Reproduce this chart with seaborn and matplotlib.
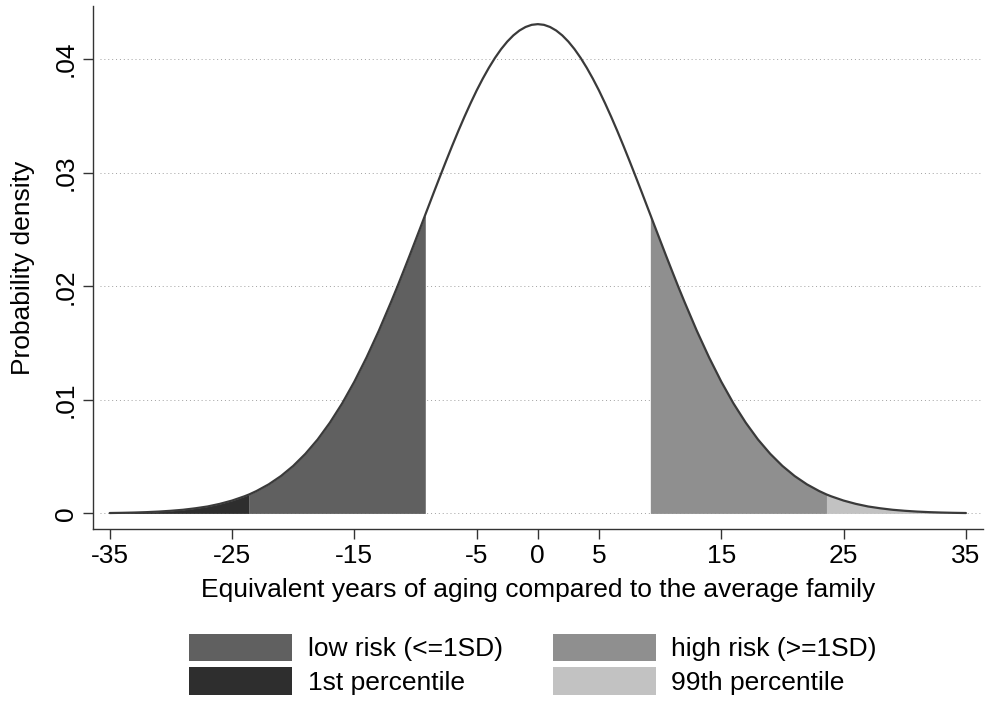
import matplotlib
matplotlib.use("Agg")
import matplotlib.pyplot as plt
from matplotlib.patches import Patch
import seaborn as sns
import pandas as pd

# ---- data ----
years = list(range(-35, 36))
# density values for years 0..35 (curve is symmetric)
density_right = [0.04308, 0.04283, 0.04209, 0.04088, 0.03924, 0.03724, 0.03492,
                 0.03237, 0.02966, 0.02686, 0.02405, 0.02128, 0.01861, 0.01608,
                 0.01374, 0.01160, 0.00968, 0.00799, 0.00651, 0.00525, 0.00418,
                 0.00329, 0.00256, 0.00197, 0.00150, 0.00113, 0.00084, 0.00061,
                 0.00045, 0.00032, 0.00023, 0.00016, 0.00011, 0.000075, 0.000051,
                 0.000034]
density = density_right[:0:-1] + density_right
# extra half-year readings around the peak
half_years_right = [0.5, 1.5, 2.5, 3.5, 4.5, 5.5, 6.5, 7.5, 8.5, 9.5, 10.5, 11.5]
half_density_right = [0.04302, 0.04252, 0.04154, 0.04011, 0.03828, 0.03611,
                      0.03367, 0.03103, 0.02827, 0.02545, 0.02265, 0.01992]
cut_sd = 9.2          # 1 SD cut-off (years)
cut_sd_density = 0.02630
cut_pct = 23.6        # 1st / 99th percentile cut-off (years)
cut_pct_density = 0.00167

x_ticks = [-35, -25, -15, -5, 0, 5, 15, 25, 35]
y_ticks = [0, 0.01, 0.02, 0.03, 0.04]
y_tick_labels = ["0", ".01", ".02", ".03", ".04"]
legend_labels = ["low risk (<=1SD)", "1st percentile", "high risk (>=1SD)", "99th percentile"]
colors = {"low": "#606060", "p1": "#2e2e2e", "high": "#8f8f8f", "p99": "#c2c2c2"}

# ---- build table ----
df = pd.DataFrame({"x": years, "y": density})
halves = pd.DataFrame({"x": [-h for h in half_years_right] + half_years_right,
                       "y": half_density_right + half_density_right})
extra = pd.DataFrame({"x": [-cut_pct, -cut_sd, cut_sd, cut_pct],
                      "y": [cut_pct_density, cut_sd_density, cut_sd_density, cut_pct_density]})
df = pd.concat([df, halves, extra]).sort_values("x").reset_index(drop=True)

sns.set_theme(style="white")
plt.rcParams["font.family"] = ["Liberation Sans", "DejaVu Sans"]
plt.rcParams["text.color"] = "black"
plt.rcParams["axes.labelcolor"] = "black"

FS = 19

fig = plt.figure(figsize=(9.85, 7.02), dpi=100)
ax = fig.add_axes([0.094, 0.246, 0.904, 0.745])

x = df["x"].to_numpy()
y = df["y"].to_numpy()
ax.fill_between(x, 0, y, where=(x <= -cut_pct), color=colors["p1"], lw=0)
ax.fill_between(x, 0, y, where=(x >= -cut_pct) & (x <= -cut_sd), color=colors["low"], lw=0)
ax.fill_between(x, 0, y, where=(x >= cut_sd) & (x <= cut_pct), color=colors["high"], lw=0)
ax.fill_between(x, 0, y, where=(x >= cut_pct), color=colors["p99"], lw=0)

sns.lineplot(data=df, x="x", y="y", ax=ax, color="#3a3a3a", lw=1.6, sort=True, zorder=5)

for yt in y_ticks:
    ax.axhline(yt, color="#a0a0a0", lw=0.7, ls=(0, (1, 3)), zorder=0, xmin=0.008)

ax.set_xlim(-36.4, 36.4)
ax.set_ylim(-0.0014, 0.04465)
ax.set_xticks(x_ticks)
ax.set_xticklabels([str(t) for t in x_ticks])
ax.set_yticks(y_ticks)
ax.set_yticklabels(y_tick_labels, rotation=90, va="center")
ax.tick_params(axis="both", direction="out", length=7.5, width=1, color="#333333",
               labelsize=FS, labelcolor="black", pad=3, bottom=True, left=True)
for s in ["top", "right"]:
    ax.spines[s].set_visible(False)
for s in ["left", "bottom"]:
    ax.spines[s].set_color("#333333")
    ax.spines[s].set_linewidth(1.0)

ax.set_xlabel("Equivalent years of aging compared to the average family", fontsize=FS, labelpad=7)
ax.set_ylabel("Probability density", fontsize=FS, labelpad=14)

handles = [Patch(facecolor=colors["low"], edgecolor="none"),
           Patch(facecolor=colors["p1"], edgecolor="none"),
           Patch(facecolor=colors["high"], edgecolor="none"),
           Patch(facecolor=colors["p99"], edgecolor="none")]
fig.legend(handles, legend_labels, ncol=2, loc="center", bbox_to_anchor=(0.541, 0.054),
           frameon=False, fontsize=FS, handlelength=3.9, handleheight=1.25,
           labelspacing=0.2, handletextpad=0.6, columnspacing=1.9)

fig.savefig("out.png", dpi=100, facecolor="white")
